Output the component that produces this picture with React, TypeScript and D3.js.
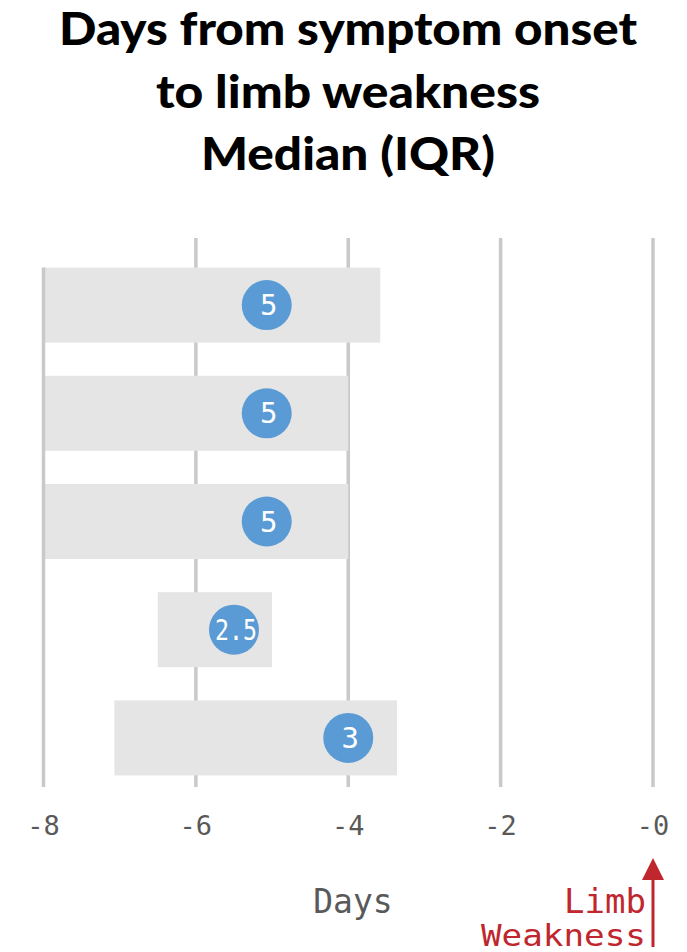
import React from "react";
import * as d3 from "d3";

const rowIds = ["g1", "g2", "g3", "g4", "g5"];
const iqrLow = [-8, -8, -8, -6.5, -7.07];
const iqrHigh = [-3.58, -4, -4, -5, -3.36];
const medianPos = [-5.07, -5.07, -5.07, -5.5, -4.0];
const medianLabels = ["5", "5", "5", "2.5", "3"];
const xTicks = [-8, -6, -4, -2, 0];
const xTickLabels = ["-8", "-6", "-4", "-2", "-0"];
const titleLines = ["Days from symptom onset", "to limb weakness", "Median (IQR)"];
const titleWidths = [578, 384, 294];

const W = 687;
const H = 952;

export default function App() {
  const x = d3.scaleLinear().domain([-8, 0]).range([43.5, 653]);
  const y = d3
    .scaleBand<string>()
    .domain(rowIds)
    .range([251, 792])
    .paddingInner(0.307)
    .paddingOuter(0.1535);
  const bw = y.bandwidth();
  const mono = "'DejaVu Sans Mono', monospace";
  const red = "#c0262d";
  const grey = "#595959";
  const x0 = x(0);

  return (
    <svg
      width={W}
      height={H}
      viewBox={`0 0 ${W} ${H}`}
      style={{ position: "absolute", left: 0, top: 0, background: "#fff" }}
    >
      <rect x={0} y={0} width={W} height={H} fill="#fff" />
      {titleLines.map((t, i) => (
        <text
          key={t}
          x={348}
          y={45 + i * 62.5}
          textAnchor="middle"
          fontFamily="Lato, 'Open Sans', sans-serif"
          fontWeight="900"
          fontSize={46}
          fill="#000"
          textLength={titleWidths[i]}
          lengthAdjust="spacingAndGlyphs"
        >
          {t}
        </text>
      ))}
      {/* gridlines */}
      {xTicks
        .filter((t) => t !== -8)
        .map((t) => (
          <line
            key={t}
            x1={x(t)}
            x2={x(t)}
            y1={238}
            y2={787}
            stroke="#c9c9c9"
            strokeWidth={3.5}
          />
        ))}
      {/* IQR bars */}
      {rowIds.map((r, i) => (
        <rect
          key={r}
          x={x(iqrLow[i])}
          y={y(r)}
          width={x(iqrHigh[i]) - x(iqrLow[i])}
          height={bw}
          fill="#e5e5e5"
        />
      ))}
      {/* axis line at -8 */}
      <line
        x1={x(-8)}
        x2={x(-8)}
        y1={y(rowIds[0])}
        y2={787}
        stroke="#c9c9c9"
        strokeWidth={3.5}
      />
      {/* medians */}
      {rowIds.map((r, i) => (
        <g key={r}>
          <circle
            cx={x(medianPos[i])}
            cy={(y(r) as number) + bw / 2}
            r={25}
            fill="#5b9bd5"
          />
          <text
            x={x(medianPos[i]) + 2}
            y={(y(r) as number) + bw / 2 + 10}
            textAnchor="middle"
            fontFamily={mono}
            fontSize={29}
            fill="#fff"
            textLength={medianLabels[i].length > 1 ? 42 : undefined}
            lengthAdjust="spacingAndGlyphs"
          >
            {medianLabels[i]}
          </text>
        </g>
      ))}
      {/* tick labels */}
      {xTicks.map((t, i) => (
        <text
          key={t}
          x={x(t)}
          y={835}
          textAnchor="middle"
          fontFamily={mono}
          fontSize={27}
          fill={grey}
        >
          {xTickLabels[i]}
        </text>
      ))}
      <text
        x={353}
        y={913}
        textAnchor="middle"
        fontFamily={mono}
        fontSize={33}
        fill={grey}
      >
        Days
      </text>
      {/* limb weakness marker */}
      <text
        x={646}
        y={913}
        textAnchor="end"
        fontFamily={mono}
        fontSize={34}
        fill={red}
      >
        Limb
      </text>
      <text
        x={646}
        y={946}
        textAnchor="end"
        fontFamily={mono}
        fontSize={31}
        fill={red}
        textLength={165}
        lengthAdjust="spacingAndGlyphs"
      >
        Weakness
      </text>
      <line x1={x0} x2={x0} y1={875} y2={947} stroke={red} strokeWidth={3} />
      <path
        d={`M${x0},858 L${x0 + 11},880 L${x0 - 11},880 Z`}
        fill={red}
      />
    </svg>
  );
}
